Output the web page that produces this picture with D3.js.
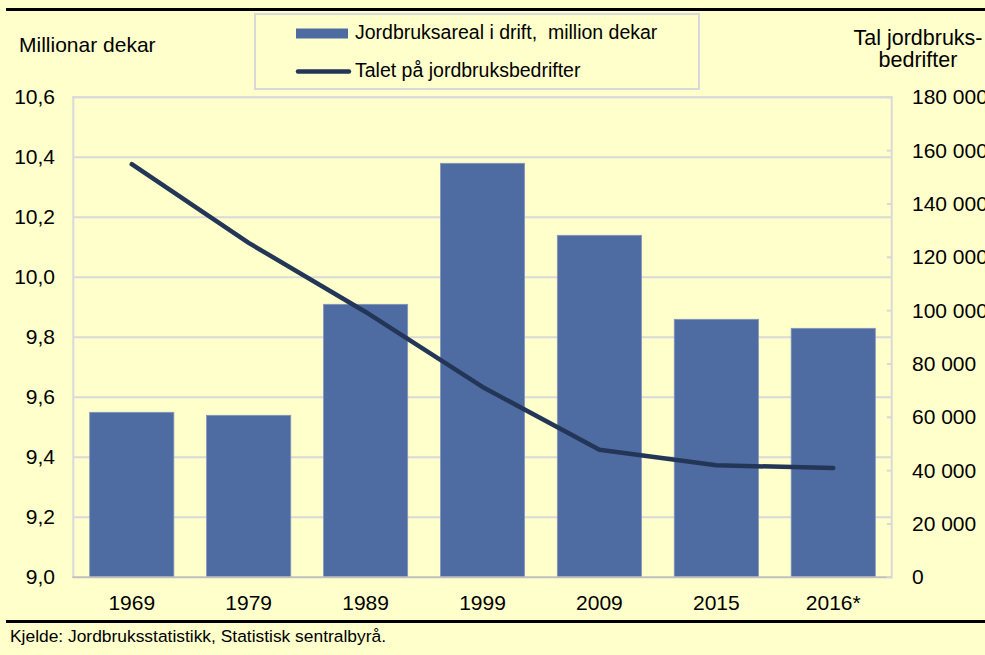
<!DOCTYPE html>
<html>
<head>
<meta charset="utf-8">
<script src="https://cdn.jsdelivr.net/npm/d3@7"></script>
<style>
  html, body { margin: 0; padding: 0; background: #FFFFCC; overflow: hidden; }
  svg { display: block; font-family: "Liberation Sans", Arial, sans-serif; }
</style>
</head>
<body>
<svg id="chart" width="985" height="655"></svg>
<script>
// Jordbruksareal i drift (million dekar) og talet på jordbruksbedrifter
const years = ["1969", "1979", "1989", "1999", "2009", "2015", "2016*"];
const areal = [9.55, 9.54, 9.91, 10.38, 10.14, 9.86, 9.83];
const bedrifter = [154900, 125400, 99500, 71400, 47800, 42000, 41000];
const leftTicks = [9.0, 9.2, 9.4, 9.6, 9.8, 10.0, 10.2, 10.4, 10.6];
const rightTicks = [0, 20000, 40000, 60000, 80000, 100000, 120000, 140000, 160000, 180000];

const svg = d3.select("#chart");
const W = 985, H = 655;
const plot = { left: 73.3, right: 891.7, top: 97.3, bottom: 577.3 };

const x = d3.scaleBand().domain(years)
  .range([plot.left, plot.right])
  .paddingInner(0.28).paddingOuter(0.14);
const yL = d3.scaleLinear().domain([9.0, 10.6]).range([plot.bottom, plot.top]);
const yR = d3.scaleLinear().domain([0, 180000]).range([plot.bottom, plot.top]);

const fmtL = d => d3.format(".1f")(d).replace(".", ",");
const fmtR = d => d3.format(",")(d).replace(/,/g, "\u00a0");

// rules at top and bottom
svg.append("rect").attr("x", 6).attr("y", 8).attr("width", W - 6).attr("height", 3).attr("fill", "#000");
svg.append("rect").attr("x", 6).attr("y", 620).attr("width", W - 6).attr("height", 3).attr("fill", "#000");

// gridlines
svg.append("g")
  .selectAll("line").data(leftTicks.slice(1)).join("line")
  .attr("x1", plot.left).attr("x2", plot.right)
  .attr("y1", d => yL(d)).attr("y2", d => yL(d))
  .attr("stroke", "#d9d9d9").attr("stroke-width", 2);

// left frame side
svg.append("line").attr("x1", plot.left).attr("x2", plot.left)
  .attr("y1", plot.top - 1).attr("y2", plot.bottom)
  .attr("stroke", "#d9d9d9").attr("stroke-width", 2);

// bars
svg.append("g").selectAll("rect").data(years).join("rect")
  .attr("x", d => x(d))
  .attr("width", x.bandwidth())
  .attr("y", (d, i) => yL(areal[i]))
  .attr("height", (d, i) => plot.bottom - yL(areal[i]))
  .attr("fill", "#4F6CA2")
  .attr("stroke", "#8596bd").attr("stroke-width", 0.8);

// x axis line
svg.append("line").attr("x1", plot.left - 1).attr("x2", plot.right)
  .attr("y1", plot.bottom).attr("y2", plot.bottom)
  .attr("stroke", "#bfbfbf").attr("stroke-width", 2);

// right axis: frame side with short inward ticks
svg.append("line").attr("x1", plot.right).attr("x2", plot.right)
  .attr("y1", plot.top - 1).attr("y2", plot.bottom + 1)
  .attr("stroke", "#d9d9d9").attr("stroke-width", 2);
svg.append("g").selectAll("line").data(rightTicks).join("line")
  .attr("x1", plot.right - 5).attr("x2", plot.right)
  .attr("y1", d => yR(d)).attr("y2", d => yR(d))
  .attr("stroke", "#d9d9d9").attr("stroke-width", 2);

// top frame
svg.append("line").attr("x1", plot.left - 1).attr("x2", plot.right + 1)
  .attr("y1", plot.top).attr("y2", plot.top)
  .attr("stroke", "#d9d9d9").attr("stroke-width", 2);

// line series
const line = d3.line()
  .x((d, i) => x(years[i]) + x.bandwidth() / 2)
  .y(d => yR(d));
svg.append("path").datum(bedrifter)
  .attr("d", line)
  .attr("fill", "none")
  .attr("stroke", "#243658")
  .attr("stroke-width", 4.5)
  .attr("stroke-linecap", "round")
  .attr("stroke-linejoin", "round");

// tick labels
const fs = 21;
svg.append("g").selectAll("text").data(leftTicks).join("text")
  .attr("x", 55).attr("y", d => yL(d) + 7)
  .attr("text-anchor", "end").attr("font-size", fs).attr("fill", "#000")
  .text(fmtL);
svg.append("g").selectAll("text").data(rightTicks).join("text")
  .attr("x", 912).attr("y", d => yR(d) + 7)
  .attr("font-size", fs).attr("fill", "#000")
  .text(fmtR);
svg.append("g").selectAll("text").data(years).join("text")
  .attr("x", d => x(d) + x.bandwidth() / 2).attr("y", 610)
  .attr("text-anchor", "middle").attr("font-size", fs).attr("fill", "#000")
  .text(d => d);

// axis titles
svg.append("text").attr("x", 19).attr("y", 52).attr("font-size", fs).text("Millionar dekar");
svg.append("text").attr("x", 918).attr("y", 45).attr("text-anchor", "middle").attr("font-size", 21.5).text("Tal jordbruks-");
svg.append("text").attr("x", 918).attr("y", 67).attr("text-anchor", "middle").attr("font-size", 21.5).text("bedrifter");

// legend
const lg = svg.append("g");
lg.append("rect").attr("x", 255).attr("y", 14).attr("width", 444).attr("height", 75)
  .attr("fill", "#FFFFCC").attr("stroke", "#d9d9d9").attr("stroke-width", 2);
lg.append("rect").attr("x", 296).attr("y", 28.5).attr("width", 52).attr("height", 10).attr("fill", "#4F6CA2");
lg.append("line").attr("x1", 298).attr("x2", 349).attr("y1", 71.5).attr("y2", 71.5)
  .attr("stroke", "#243658").attr("stroke-width", 4.5).attr("stroke-linecap", "round");
lg.append("text").attr("x", 355).attr("y", 39).attr("font-size", 19.5).attr("xml:space", "preserve")
  .text("Jordbruksareal i drift,  million dekar");
lg.append("text").attr("x", 355).attr("y", 77).attr("font-size", 19.5)
  .text("Talet på jordbruksbedrifter");

// source
svg.append("text").attr("x", 10).attr("y", 642).attr("font-size", 17.4)
  .text("Kjelde: Jordbruksstatistikk, Statistisk sentralbyrå.");
</script>
</body>
</html>
